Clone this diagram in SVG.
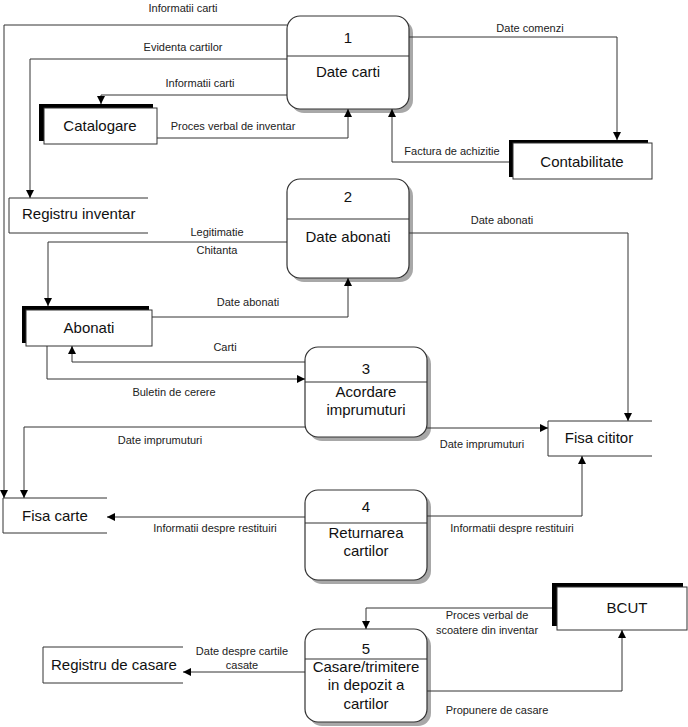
<svg xmlns="http://www.w3.org/2000/svg" width="688" height="727" viewBox="0 0 688 727">
<defs>
<marker id="arr" viewBox="0 0 10 10" refX="10" refY="5" markerWidth="10" markerHeight="8" markerUnits="userSpaceOnUse" orient="auto">
<path d="M0,0 L10,5 L0,10 Z" fill="#000"/>
</marker>
</defs>
<style>
.bg{fill:#fff}
.proc{fill:#fff;stroke:#333;stroke-width:1.2}
.shadow{fill:#a8a8a8}
.div{stroke:#333;stroke-width:1.2}
.ent{fill:#fff;stroke:#333;stroke-width:1}
.entsh{fill:#000}
.store{fill:none;stroke:#333;stroke-width:1}
.c{fill:none;stroke:#333;stroke-width:1;marker-end:url(#arr)}
.t{font-family:"Liberation Sans",Arial,sans-serif;font-size:15px;fill:#111;text-anchor:middle}
.ts{font-family:"Liberation Sans",Arial,sans-serif;font-size:15px;fill:#111}
.l{font-family:"Liberation Sans",Arial,sans-serif;font-size:11px;fill:#222;text-anchor:middle}
</style>
<rect class="bg" x="0" y="0" width="688" height="727"/>

<g id="p1">
<rect class="shadow" x="291" y="20" width="122" height="93" rx="13"/>
<rect class="proc" x="287" y="16" width="122" height="93" rx="13"/>
<line class="div" x1="287" y1="56" x2="409" y2="56"/>
<text class="t" x="348" y="43">1</text>
<text class="t" x="348" y="77">Date carti</text>
</g>
<g id="p2">
<rect class="shadow" x="291" y="183" width="122" height="99" rx="13"/>
<rect class="proc" x="287" y="179" width="122" height="99" rx="13"/>
<line class="div" x1="287" y1="219" x2="409" y2="219"/>
<text class="t" x="348" y="202">2</text>
<text class="t" x="348" y="242">Date abonati</text>
</g>
<g id="p3">
<rect class="shadow" x="309" y="351" width="122" height="90" rx="13"/>
<rect class="proc" x="305" y="347" width="122" height="90" rx="13"/>
<line class="div" x1="305" y1="382" x2="427" y2="382"/>
<text class="t" x="366" y="374">3</text>
<text class="t" x="366" y="397">Acordare</text>
<text class="t" x="366" y="415">imprumuturi</text>
</g>
<g id="p4">
<rect class="shadow" x="309" y="494" width="122" height="90" rx="13"/>
<rect class="proc" x="305" y="490" width="122" height="90" rx="13"/>
<line class="div" x1="305" y1="523" x2="427" y2="523"/>
<text class="t" x="366" y="512">4</text>
<text class="t" x="366" y="538">Returnarea</text>
<text class="t" x="366" y="556">cartilor</text>
</g>
<g id="p5">
<rect class="shadow" x="309" y="633" width="122" height="93" rx="13"/>
<rect class="proc" x="305" y="629" width="122" height="93" rx="13"/>
<line class="div" x1="305" y1="659" x2="427" y2="659"/>
<text class="t" x="366" y="654">5</text>
<text class="t" x="366" y="672">Casare/trimitere</text>
<text class="t" x="366" y="690">in depozit a</text>
<text class="t" x="366" y="709">cartilor</text>
</g>

<g id="catalogare">
<rect class="entsh" x="39" y="104" width="114" height="37"/>
<rect class="ent" x="44" y="108" width="113" height="36"/>
<text class="t" x="100" y="131">Catalogare</text>
</g>
<g id="contabilitate">
<rect class="entsh" x="509" y="140" width="139" height="37"/>
<rect class="ent" x="513" y="143" width="139" height="36"/>
<text class="t" x="582" y="167">Contabilitate</text>
</g>
<g id="abonati">
<rect class="entsh" x="22" y="306" width="127" height="37"/>
<rect class="ent" x="26" y="310" width="126" height="36"/>
<text class="t" x="89" y="333">Abonati</text>
</g>
<g id="bcut">
<rect class="entsh" x="552" y="583" width="131" height="43"/>
<rect class="ent" x="557" y="587" width="130" height="43"/>
<text class="t" x="627" y="613">BCUT</text>
</g>

<g id="registru-inventar">
<path class="store" d="M148,198 H9 V233 H148"/>
<text class="ts" x="22" y="219">Registru inventar</text>
</g>
<g id="fisa-carte">
<path class="store" d="M107,498 H3 V533 H107"/>
<text class="ts" x="22" y="521">Fisa carte</text>
</g>
<g id="fisa-cititor">
<path class="store" d="M652,421 H548 V456 H652"/>
<text class="t" x="599" y="443">Fisa cititor</text>
</g>
<g id="registru-casare">
<path class="store" d="M183,647 H43 V683 H183"/>
<text class="ts" x="51" y="670">Registru de casare</text>
</g>

<g id="connectors">
<path class="c" d="M287,25 H4 V498"/>
<path class="c" d="M287,59 H30 V198"/>
<path class="c" d="M287,95 H101 V104"/>
<path class="c" d="M157,138 H348 V109"/>
<path class="c" d="M409,37 H617 V140"/>
<path class="c" d="M509,162 H392 V109"/>
<path class="c" d="M287,242 H48 V306"/>
<path class="c" d="M152,317 H348 V278"/>
<path class="c" d="M409,233 H628 V421"/>
<path class="c" d="M305,362 H72 V346"/>
<path class="c" d="M47,346 V379 H305"/>
<path class="c" d="M305,427 H24 V498"/>
<path class="c" d="M427,428 H548"/>
<path class="c" d="M305,517 H107"/>
<path class="c" d="M427,516 H582 V456"/>
<path class="c" d="M552,608 H366 V629"/>
<path class="c" d="M305,672 H183"/>
<path class="c" d="M427,691 H622 V630"/>
</g>

<g id="labels">
<text class="l" x="183" y="12">Informatii carti</text>
<text class="l" x="183" y="51">Evidenta cartilor</text>
<text class="l" x="200" y="87">Informatii carti</text>
<text class="l" x="233" y="130">Proces verbal de inventar</text>
<text class="l" x="530" y="32">Date comenzi</text>
<text class="l" x="452" y="155">Factura de achizitie</text>
<text class="l" x="217" y="236">Legitimatie</text>
<text class="l" x="217" y="254">Chitanta</text>
<text class="l" x="248" y="306">Date abonati</text>
<text class="l" x="502" y="224">Date abonati</text>
<text class="l" x="225" y="351">Carti</text>
<text class="l" x="174" y="396">Buletin de cerere</text>
<text class="l" x="160" y="444">Date imprumuturi</text>
<text class="l" x="482" y="448">Date imprumuturi</text>
<text class="l" x="215" y="532">Informatii despre restituiri</text>
<text class="l" x="512" y="532">Informatii despre restituiri</text>
<text class="l" x="487" y="619">Proces verbal de</text>
<text class="l" x="487" y="634">scoatere din inventar</text>
<text class="l" x="242" y="655">Date despre cartile</text>
<text class="l" x="242" y="669">casate</text>
<text class="l" x="497" y="714">Propunere de casare</text>
</g>
</svg>
